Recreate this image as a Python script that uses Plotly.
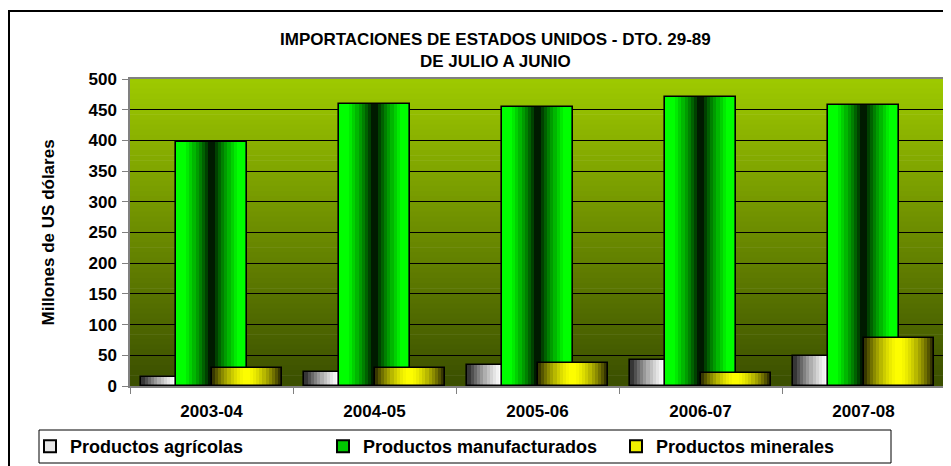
import plotly.graph_objects as go

categories = ["2003-04", "2004-05", "2005-06", "2006-07", "2007-08"]
series_names = ["Productos agrícolas", "Productos manufacturados", "Productos minerales"]
agricolas = [15, 23, 34, 42, 49]
manufacturados = [398, 460, 455, 470, 458]
minerales = [29, 29, 38, 21, 78]
y_ticks = [0, 50, 100, 150, 200, 250, 300, 350, 400, 450, 500]

FONT = "Liberation Sans, Arial, sans-serif"
x = list(range(len(categories)))

W = 0.43
offsets = [-0.43, -0.215, 0.0]
N = 22

# page body has an 8px margin: compensate
OFF = 8
PL, PR, PT, PB = 130, 945, 79, 386  # plot area in window pixels
PW, PH = PR - PL, PB - PT


def px_x(v):
    return (v - PL) / PW


def px_y(v):
    return (PB - v) / PH


def lerp(c1, c2, t):
    return "rgb(%d,%d,%d)" % tuple(round(a + (b - a) * t) for a, b in zip(c1, c2))


def green_col(t):
    d = abs(t - 0.5) * 2  # 0 center, 1 edge
    return lerp((0, 0, 0), (0, 255, 0), min(1, d ** 0.8 * 1.25))


def yellow_col(t):
    d = abs(t - 0.5) * 2
    return lerp((255, 255, 0), (40, 40, 0), min(1, d ** 1.6))


def white_col(t):
    d = abs(t - 0.5) * 2
    return lerp((255, 255, 255), (40, 40, 40), min(1, d ** 1.4))


fig = go.Figure()

specs = [
    (agricolas, white_col, "rgb(230,230,230)"),
    (manufacturados, green_col, "rgb(0,200,0)"),
    (minerales, yellow_col, "rgb(240,240,0)"),
]

for si, (vals, cfun, legcol) in enumerate(specs):
    sw = W / N
    for k in range(N):
        t = (k + 0.5) / N
        fig.add_trace(go.Bar(
            x=x, y=vals, offset=offsets[si] + k * sw, width=sw * 1.08,
            marker=dict(color=cfun(t), line=dict(width=0)),
            showlegend=False, hoverinfo="skip",
        ))
    fig.add_trace(go.Bar(
        x=x, y=vals, offset=offsets[si], width=W,
        marker=dict(color="rgba(0,0,0,0)", line=dict(color="black", width=1.6)),
        showlegend=False, name=series_names[si],
    ))

for si, (vals, cfun, legcol) in enumerate(specs):
    fig.add_trace(go.Bar(
        x=[None], y=[None], name=series_names[si],
        marker=dict(color=legcol, line=dict(color="black", width=1.5)),
        showlegend=True,
    ))

# plot area gradient background
shapes = []
NB = 60
top = (158, 202, 0)
bot = (58, 78, 0)
for i in range(NB):
    t0 = i / NB
    t1 = (i + 1) / NB
    shapes.append(dict(
        type="rect", xref="x domain", yref="y domain",
        x0=0, x1=1, y0=1 - t1, y1=1 - t0 + 0.002,
        fillcolor=lerp(top, bot, (i + 0.5) / NB), line=dict(width=0), layer="below",
    ))
# outer chart border
shapes.append(dict(
    type="rect", xref="paper", yref="paper",
    x0=px_x(9), x1=1.2, y0=-0.6, y1=px_y(11),
    line=dict(color="black", width=2), fillcolor="rgba(0,0,0,0)", layer="above",
))
# legend box
shapes.append(dict(
    type="rect", xref="paper", yref="paper",
    x0=px_x(39), x1=px_x(891), y0=px_y(463), y1=px_y(430),
    line=dict(color="black", width=1), fillcolor="white", layer="above",
))

fig.update_layout(
    width=951 - OFF, height=466 - OFF,
    margin=dict(l=PL - OFF, r=951 - PR, t=PT - OFF, b=466 - PB, autoexpand=False),
    paper_bgcolor="white",
    plot_bgcolor="rgba(0,0,0,0)",
    barmode="overlay",
    bargap=0,
    font=dict(family=FONT, color="black"),
    shapes=shapes,
    showlegend=True,
    legend=dict(
        orientation="h", x=px_x(30), y=px_y(446.5),
        xanchor="left", yanchor="middle",
        bgcolor="rgba(0,0,0,0)", borderwidth=0,
        entrywidth=248, entrywidthmode="pixels",
        font=dict(size=18, family=FONT, weight="bold"),
        traceorder="normal", itemsizing="constant",
    ),
    annotations=[
        dict(text="IMPORTACIONES DE ESTADOS UNIDOS - DTO. 29-89", xref="paper", yref="paper",
             x=px_x(495), y=px_y(40), showarrow=False,
             font=dict(size=17, family=FONT, weight="bold"), xanchor="center", yanchor="middle"),
        dict(text="DE JULIO A JUNIO", xref="paper", yref="paper",
             x=px_x(495), y=px_y(62), showarrow=False,
             font=dict(size=17, family=FONT, weight="bold"), xanchor="center", yanchor="middle"),
        dict(text="Millones de US dólares", xref="paper", yref="paper",
             x=px_x(48), y=0.5, showarrow=False, textangle=-90,
             font=dict(size=17, family=FONT, weight="bold"), xanchor="center", yanchor="middle"),
    ],
)

fig.update_xaxes(
    range=[-0.5, len(categories) - 0.5],
    tickvals=x, ticktext=categories, ticks="",
    tickfont=dict(size=17, family=FONT, weight="bold"),
    ticklabelstandoff=9,
    showgrid=False, zeroline=False,
    showline=True, linecolor="#808080", linewidth=1.5, mirror=True,
    minor=dict(tickvals=[i - 0.5 for i in range(len(categories) + 1)], ticks="outside",
               ticklen=6, tickcolor="#808080", tickwidth=1, showgrid=False),
)
fig.update_yaxes(
    range=[0, 500], tickvals=y_ticks, ticks="outside", ticklen=6,
    tickcolor="#808080", tickwidth=1,
    tickfont=dict(size=17, family=FONT, weight="bold"),
    ticklabelstandoff=2,
    showgrid=True, gridcolor="black", gridwidth=1.2, zeroline=False,
    showline=True, linecolor="#808080", linewidth=1.5, mirror=True,
)

fig.write_html("out.html")
